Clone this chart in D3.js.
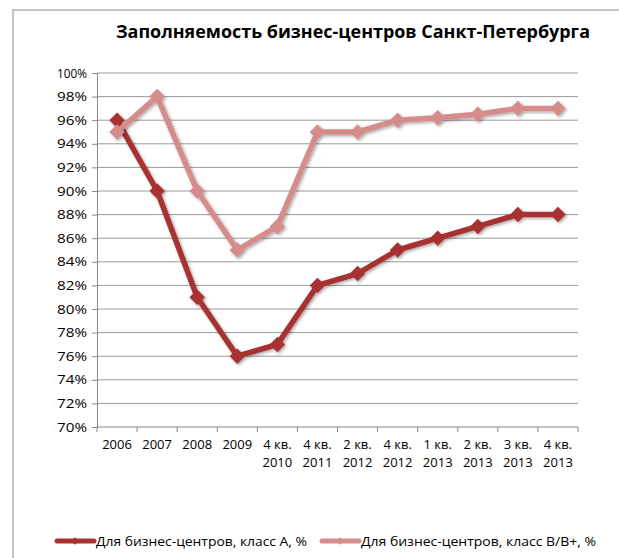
<!DOCTYPE html>
<html>
<head>
<meta charset="utf-8">
<script src="https://d3js.org/d3.v7.min.js"></script>
<style>
  body { margin: 0; background: #fff; }
  text { font-family: "Open Sans", "DejaVu Sans", sans-serif; fill: #000; }
</style>
</head>
<body>
<svg id="chart" width="619" height="558"></svg>
<script>
// categories and values
var categories = ["2006", "2007", "2008", "2009", "4 кв.|2010", "4 кв.|2011", "2 кв.|2012",
                  "4 кв.|2012", "1 кв.|2013", "2 кв.|2013", "3 кв.|2013", "4 кв.|2013"];
var classA = [96, 90, 81, 76, 77, 82, 83, 85, 86, 87, 88, 88];
var classB = [95, 98, 90, 85, 87, 95, 95, 96, 96.2, 96.5, 97, 97];
var yTicks = d3.range(70, 101, 2);
var seriesNames = ["Для бизнес-центров, класс А, %", "Для бизнес-центров, класс B/B+, %"];
var colors = ["#a83230", "#d68c8b"];

var svg = d3.select("#chart");

// outer frame (only top and left visible)
svg.append("path")
  .attr("d", "M13,558V10H619")
  .attr("fill", "none")
  .attr("stroke", "#c4c4c4")
  .attr("stroke-width", 2);

svg.append("defs").append("filter").attr("id", "shadow")
  .attr("x", "-50%").attr("y", "-50%").attr("width", "200%").attr("height", "200%")
  .append("feDropShadow")
  .attr("dx", 1.5).attr("dy", 1.5).attr("stdDeviation", 1.5)
  .attr("flood-color", "#000").attr("flood-opacity", 0.35);

svg.append("text")
  .attr("x", 116).attr("y", 38)
  .attr("textLength", 474).attr("lengthAdjust", "spacingAndGlyphs")
  .style("font-size", "17px").style("font-weight", "bold")
  .text("Заполняемость бизнес-центров Санкт-Петербурга");

var plotL = 97, plotR = 578, plotT = 73, plotB = 427;

var x = d3.scaleBand().domain(categories).range([plotL, plotR]);
var y = d3.scaleLinear().domain([70, 100]).range([plotB, plotT]);

// gridlines
svg.append("g").selectAll("line")
  .data(yTicks.slice(1))
  .join("line")
  .attr("x1", plotL).attr("x2", plotR)
  .attr("y1", function(d) { return y(d); })
  .attr("y2", function(d) { return y(d); })
  .attr("stroke", "#9a9a9a").attr("stroke-width", 1);

// y axis
var yAxis = svg.append("g")
  .attr("transform", "translate(" + plotL + ",0)")
  .call(d3.axisLeft(y).tickValues(yTicks).tickSize(5).tickPadding(5)
    .tickFormat(function(d) { return d + "%"; }));
yAxis.attr("font-family", null).attr("font-size", null);
yAxis.select(".domain").attr("stroke", "#888");
yAxis.selectAll(".tick line").attr("stroke", "#888");
yAxis.selectAll("text").style("font-size", "13px")
  .attr("textLength", 30).attr("lengthAdjust", "spacingAndGlyphs");

// x axis with tick marks between categories
var xAxis = svg.append("g").attr("transform", "translate(0," + plotB + ")");
xAxis.append("line").attr("x1", plotL).attr("x2", plotR).attr("stroke", "#888");
xAxis.selectAll(".sep")
  .data(categories)
  .join("line")
  .attr("class", "sep")
  .attr("x1", function(d) { return x(d) + x.bandwidth(); })
  .attr("x2", function(d) { return x(d) + x.bandwidth(); })
  .attr("y1", 0).attr("y2", 5)
  .attr("stroke", "#888");
xAxis.append("line").attr("x1", plotL).attr("x2", plotL).attr("y1", 0).attr("y2", 5).attr("stroke", "#888");

var labels = xAxis.selectAll(".lbl")
  .data(categories)
  .join("text")
  .attr("class", "lbl")
  .attr("text-anchor", "middle")
  .style("font-size", "13px");
labels.each(function(d) {
  var parts = d.split("|");
  var t = d3.select(this);
  parts.forEach(function(p, i) {
    t.append("tspan")
      .attr("x", x(d) + x.bandwidth() / 2)
      .attr("y", 22 + i * 18)
      .text(p);
  });
});

// lines and markers
var line = d3.line()
  .x(function(d, i) { return x(categories[i]) + x.bandwidth() / 2; })
  .y(function(d) { return y(d); });

var diamond = d3.symbol().type(d3.symbolSquare).size(120);

[classA, classB].forEach(function(data, s) {
  var g = svg.append("g").attr("filter", "url(#shadow)");
  g.append("path")
    .attr("d", line(data))
    .attr("fill", "none")
    .attr("stroke", colors[s])
    .attr("stroke-width", 5.5)
    .attr("stroke-linejoin", "round");
  g.selectAll("path.m")
    .data(data)
    .join("path")
    .attr("class", "m")
    .attr("transform", function(d, i) {
      return "translate(" + (x(categories[i]) + x.bandwidth() / 2) + "," + y(d) + ") rotate(45)";
    })
    .attr("d", diamond)
    .attr("fill", colors[s]);
});

// legend
var legendX = [57, 322];
var legendW = [211, 235];
seriesNames.forEach(function(name, s) {
  var lg = svg.append("g").attr("transform", "translate(" + legendX[s] + ",541)");
  lg.append("line").attr("x1", 0).attr("x2", 37).attr("stroke", colors[s])
    .attr("stroke-width", 5).attr("stroke-linecap", "round");
  lg.append("path").attr("d", d3.symbol().type(d3.symbolSquare).size(30))
    .attr("transform", "translate(18,0) rotate(45)").attr("fill", colors[s]);
  lg.append("text").attr("x", 39).attr("y", 5)
    .style("font-size", "13px")
    .attr("textLength", legendW[s]).attr("lengthAdjust", "spacingAndGlyphs")
    .text(name);
});
</script>
</body>
</html>
